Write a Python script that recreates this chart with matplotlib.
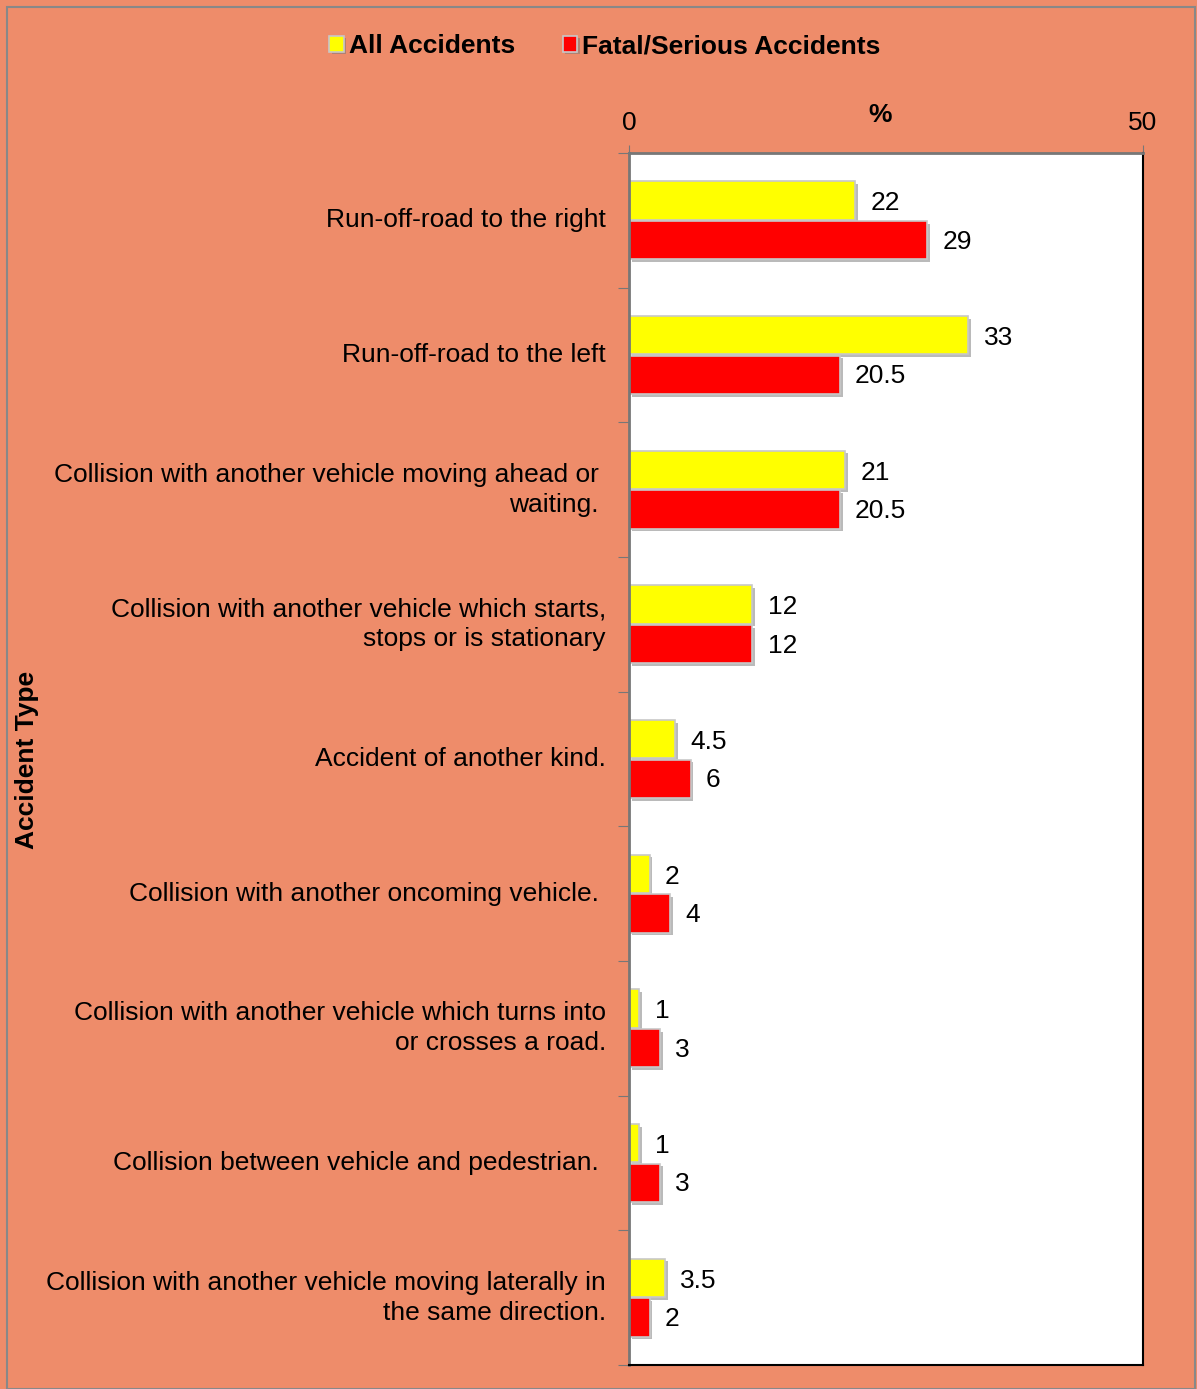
import matplotlib
matplotlib.use("Agg")
import matplotlib.pyplot as plt
import matplotlib.patheffects as pe
import numpy as np

categories = [
    "Run-off-road to the right",
    "Run-off-road to the left",
    "Collision with another vehicle moving ahead or \nwaiting. ",
    "Collision with another vehicle which starts,\nstops or is stationary",
    "Accident of another kind.",
    "Collision with another oncoming vehicle. ",
    "Collision with another vehicle which turns into\nor crosses a road.",
    "Collision between vehicle and pedestrian. ",
    "Collision with another vehicle moving laterally in\nthe same direction.",
]
all_acc = [22, 33, 21, 12, 4.5, 2, 1, 1, 3.5]
fatal_acc = [29, 20.5, 20.5, 12, 6, 4, 3, 3, 2]
all_labels = ["22", "33", "21", "12", "4.5", "2", "1", "1", "3.5"]
fatal_labels = ["29", "20.5", "20.5", "12", "6", "4", "3", "3", "2"]

plt.rcParams['font.family'] = ['Liberation Sans', 'DejaVu Sans']
bg = "#EE8C6A"
FS = 19

fig = plt.figure(figsize=(11.97, 13.89), dpi=100, facecolor=bg)
ax = fig.add_axes([629/1197, 1-1365/1389, (1143-629)/1197, (1365-153)/1389])
ax.set_facecolor("white")

n = len(categories)
y = np.arange(n)
h = 0.285
shadow = [pe.SimplePatchShadow(offset=(2, -2), shadow_rgbFace="#777777", alpha=0.5), pe.Normal()]
b1 = ax.barh(y - h/2 - 0.005, all_acc, height=h, color="#FFFF00", edgecolor="#C8C8C8", linewidth=1.2,
             label="All Accidents", path_effects=shadow)
b2 = ax.barh(y + h/2 + 0.005, fatal_acc, height=h, color="#FF0000", edgecolor="#C8C8C8", linewidth=1.2,
             label="Fatal/Serious Accidents", path_effects=shadow)

for i in range(n):
    ax.annotate(all_labels[i], (all_acc[i], y[i] - h/2), xytext=(11, -1.5), textcoords="offset points",
                va="center", ha="left", fontsize=FS)
    ax.annotate(fatal_labels[i], (fatal_acc[i], y[i] + h/2), xytext=(11, -1.5), textcoords="offset points",
                va="center", ha="left", fontsize=FS)

ax.set_xlim(0, 50)
ax.set_ylim(n - 0.5, -0.5)
ax.xaxis.tick_top()
ax.set_xticks([0, 50])
ax.set_xticklabels(["0", "50"], fontsize=FS)
ax.tick_params(axis="x", direction="out", length=6, color="#777777", pad=7)

ax.set_yticks(np.arange(-0.5, n + 0.5, 1))
ax.set_yticklabels([])
ax.tick_params(axis="y", direction="out", length=8, color="#777777")
for i, c in enumerate(categories):
    ax.text(-0.045, i, c, transform=ax.get_yaxis_transform(), ha="right", va="center",
            fontsize=FS, linespacing=1.32)

ax.spines["top"].set_color("#777777")
ax.spines["left"].set_color("#777777")
ax.spines["top"].set_linewidth(2)
ax.spines["left"].set_linewidth(2)
ax.spines["right"].set_color("black")
ax.spines["bottom"].set_color("black")
ax.spines["right"].set_linewidth(1.5)
ax.spines["bottom"].set_linewidth(1.5)

fig.text(880/1197, 1-115/1389, "%", fontsize=FS, fontweight="bold", ha="center", va="center")
fig.text(27/1197, 1-760/1389, "Accident Type", fontsize=FS, fontweight="bold", rotation=90,
         ha="center", va="center")

leg = fig.legend(handles=[b1, b2], loc="center", bbox_to_anchor=(605/1197, 1-46/1389), ncol=2,
                 frameon=False, prop={"weight": "bold", "size": FS},
                 handlelength=0.55, handleheight=0.55, handletextpad=0.2, columnspacing=1.8)

border = plt.Rectangle((7/1197, 0), (1195-7)/1197, 1-7/1389, transform=fig.transFigure,
                       fill=False, edgecolor="#888888", linewidth=1.5)
fig.patches.append(border)

fig.savefig("out.png", dpi=100, facecolor=bg)
